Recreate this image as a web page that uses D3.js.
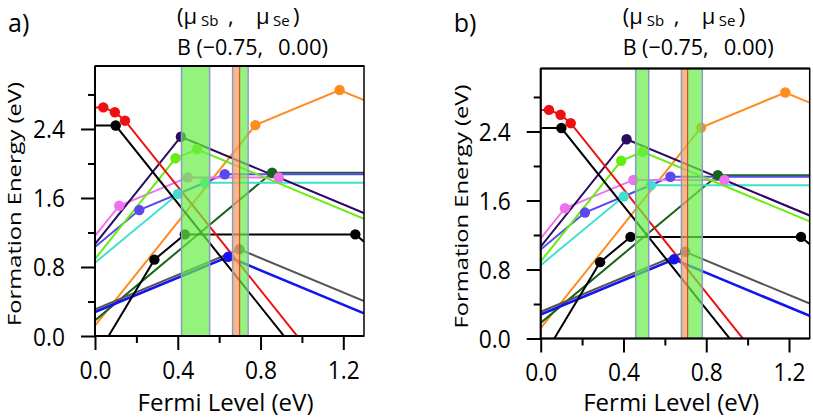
<!DOCTYPE html>
<html><head><meta charset="utf-8">
<script src="https://cdn.jsdelivr.net/npm/d3@7"></script>
<style>
html,body{margin:0;padding:0;background:#fff;}
svg{display:block;}
text{font-family:"Open Sans","Noto Sans",sans-serif;fill:#000;}
</style></head>
<body>
<svg id="chart" width="813" height="419"></svg>
<script>
// ---------- data (Fermi level eV, formation energy eV) ----------
const xDomain = [0, 1.3];
const yDomain = [0, 3.13];
const xMajorTicks = [0.0, 0.4, 0.8, 1.2];
const xMinorTicks = [0.2, 0.6, 1.0];
const yMajorTicks = [0.0, 0.8, 1.6, 2.4];
const yMinorTicks = [0.4, 1.2, 2.0, 2.8];

const lineOrange    = [[0,0.12],[0.775,2.445],[1.182,2.852],[1.3,2.734]];
const lineDarkGreen = [[0,0.181],[0.856,1.893],[1.3,1.893]];
const lineCyan      = [[0,0.85],[0.401,1.646],[0.532,1.777],[1.3,1.777]];
const lineSlate     = [[0,1.032],[0.214,1.46],[0.627,1.875],[1.3,1.875]];
const lineMagenta   = [[0,1.16],[0.117,1.51],[0.448,1.838],[0.888,1.838],[1.3,1.426]];
const lineLime      = [[0,0.893],[0.389,2.06],[0.493,2.165],[1.3,1.358]];
const lineIndigo    = [[0,1.065],[0.415,2.31],[1.3,1.425]];
const lineGray      = [[0,0.31],[0.698,1.005],[1.3,0.405]];
const lineBlue      = [[0,0.278],[0.644,0.918],[1.3,0.262]];
const lineBlackLow  = [[0,-0.263],[0.287,0.885],[0.434,1.178],[1.258,1.178],[1.3,1.094]];
const lineBlackTop  = [[0,2.44],[0.10,2.44],[1.3,-1.16]];
const lineRed       = [[0,2.65],[0.04,2.65],[0.096,2.594],[0.145,2.496],[1.3,-0.969]];

const seriesList = [lineOrange, lineDarkGreen, lineCyan, lineSlate, lineMagenta, lineLime,
                    lineIndigo, lineGray, lineBlue, lineBlackLow, lineBlackTop, lineRed];
const seriesColors = ["#ff8c1e","#17651a","#3fe0d0","#5a48ee","#ee72ee","#66ee10",
                      "#2b0b5e","#555555","#1414f0","#000000","#000000","#ee1111"];

// chemical-potential bands (eV)
const greenBandsA  = [[0.418,0.554],[0.701,0.738]];
const orangeBandsA = [[0.667,0.697]];
const edgeLinesA   = [0.418,0.554,0.665,0.740];
const redLinesA    = [0.699];
const greenBandsB  = [[0.459,0.522],[0.712,0.779]];
const orangeBandsB = [[0.683,0.708]];
const edgeLinesB   = [0.459,0.522,0.680,0.781];
const redLinesB    = [0.710];

const panelLabels = ["a)", "b)"];
const muHeader = ["(\u03BC", "Sb", ",", "\u03BC", "Se", ")"];
const pointLabel = ["B (\u22120.75,", "0.00)"];
const xTitle = "Fermi Level (eV)";
const yTitle = "Formation Energy (eV)";

// ---------- drawing ----------
const svg = d3.select("#chart");
const panels = [
  {left:95,  top:66, bottom:336, titleX:21, green:greenBandsA, orange:orangeBandsA, edges:edgeLinesA, reds:redLinesA, label:panelLabels[0]},
  {left:540.7, top:68.5, bottom:338.5, titleX:468, green:greenBandsB, orange:orangeBandsB, edges:edgeLinesB, reds:redLinesB, label:panelLabels[1]}
];
const W = 269;

panels.forEach((p, i) => {
  const x = d3.scaleLinear().domain(xDomain).range([p.left, p.left + W]);
  const y = d3.scaleLinear().domain(yDomain).range([p.bottom, p.top]);
  const g = svg.append("g");
  const clipId = "clip" + i;
  svg.append("clipPath").attr("id", clipId).append("rect")
    .attr("x", p.left).attr("y", p.top).attr("width", W).attr("height", p.bottom - p.top);
  const plot = g.append("g").attr("clip-path", `url(#${clipId})`);

  const line = d3.line().x(d => x(d[0])).y(d => y(d[1]));
  seriesList.forEach((s, k) => {
    plot.append("path").attr("d", line(s)).attr("fill", "none")
      .attr("stroke", seriesColors[k]).attr("stroke-width", seriesColors[k] === "#1414f0" ? 2.6 : 2);
  });
  seriesList.forEach((s, k) => {
    plot.selectAll(null).data(s.slice(1, -1)).enter().append("circle")
      .attr("cx", d => x(d[0])).attr("cy", d => y(d[1])).attr("r", 5.2)
      .attr("fill", seriesColors[k]);
  });

  // bands drawn over the lines, semi-transparent
  plot.selectAll(null).data(p.green).enter().append("rect")
    .attr("x", d => x(d[0])).attr("width", d => x(d[1]) - x(d[0]))
    .attr("y", p.top).attr("height", p.bottom - p.top)
    .attr("fill", "#66ee44").attr("fill-opacity", 0.7);
  plot.selectAll(null).data(p.orange).enter().append("rect")
    .attr("x", d => x(d[0])).attr("width", d => x(d[1]) - x(d[0]))
    .attr("y", p.top).attr("height", p.bottom - p.top)
    .attr("fill", "#f5a060").attr("fill-opacity", 0.75);
  plot.selectAll(null).data(p.reds).enter().append("line")
    .attr("x1", d => x(d)).attr("x2", d => x(d)).attr("y1", p.top).attr("y2", p.bottom)
    .attr("stroke", "#c8502a").attr("stroke-width", 1.2);
  plot.selectAll(null).data(p.edges).enter().append("line")
    .attr("x1", d => x(d)).attr("x2", d => x(d)).attr("y1", p.top).attr("y2", p.bottom)
    .attr("stroke", "#8a9cc4").attr("stroke-width", 1.5);

  // frame
  g.append("rect").attr("x", p.left).attr("y", p.top).attr("width", W).attr("height", p.bottom - p.top)
    .attr("fill", "none").attr("stroke", "#000").attr("stroke-width", 1.5);

  // axes
  g.append("g").attr("transform", `translate(0,${p.bottom})`)
    .call(d3.axisBottom(x).tickValues(xMajorTicks).tickSize(14).tickPadding(11).tickFormat(d3.format(".1f")));
  g.append("g").attr("transform", `translate(0,${p.bottom})`)
    .call(d3.axisBottom(x).tickValues(xMinorTicks).tickSize(7).tickFormat(""));
  const yAx = g.append("g").attr("transform", `translate(${p.left},0)`)
    .call(d3.axisLeft(y).tickValues(yMajorTicks).tickSize(14).tickPadding(16).tickFormat(d3.format(".1f")));
  g.append("g").attr("transform", `translate(${p.left},0)`)
    .call(d3.axisLeft(y).tickValues(yMinorTicks).tickSize(7).tickFormat(""));
  g.selectAll(".domain").remove();
  g.selectAll(".tick line").attr("stroke", "#000").attr("stroke-width", 2);
  g.selectAll(".tick text").style("font-size", "25px").attr("fill", "#000")
    .attr("textLength", 32).attr("lengthAdjust", "spacingAndGlyphs");
  yAx.selectAll(".tick text").attr("dy", "0.36em");
  // axis lines
  g.append("line").attr("x1", p.left).attr("x2", p.left + W).attr("y1", p.bottom).attr("y2", p.bottom)
    .attr("stroke", "#000").attr("stroke-width", 2);
  g.append("line").attr("x1", p.left).attr("x2", p.left).attr("y1", p.top).attr("y2", p.bottom)
    .attr("stroke", "#000").attr("stroke-width", 2);
  g.append("line").attr("x1", p.left).attr("x2", p.left + W).attr("y1", p.top).attr("y2", p.top)
    .attr("stroke", "#000").attr("stroke-width", 2);

  // axis titles
  g.append("text").attr("x", p.left + W / 2 - 4).attr("y", 411).attr("text-anchor", "middle")
    .attr("textLength", 176).attr("lengthAdjust", "spacingAndGlyphs")
    .style("font-size", "23px").text(xTitle);
  g.append("text").attr("transform", `translate(${p.titleX},${(p.top + p.bottom) / 2 + 3}) rotate(-90)`)
    .attr("text-anchor", "middle").attr("textLength", 244).attr("lengthAdjust", "spacingAndGlyphs")
    .style("font-size", "19px").text(yTitle);

  // panel label & header
  const dx = p.left - 95;
  g.append("text").attr("x", 8 + dx).attr("y", 32).style("font-size", "25px").text(p.label);
  const parts = [
    {t: muHeader[0], x: 177, y: 24, fs: 22},
    {t: muHeader[1], x: 201, y: 26, fs: 15},
    {t: muHeader[2], x: 228, y: 24, fs: 22},
    {t: muHeader[3], x: 256, y: 24, fs: 22},
    {t: muHeader[4], x: 273, y: 26, fs: 15},
    {t: muHeader[5], x: 293, y: 24, fs: 22}
  ];
  parts.forEach(o => {
    g.append("text").attr("x", o.x + dx).attr("y", o.y).style("font-size", o.fs + "px").text(o.t);
  });
  g.append("text").attr("x", 177 + dx).attr("y", 55).style("font-size", "22px")
    .attr("textLength", 86).attr("lengthAdjust", "spacingAndGlyphs").text(pointLabel[0]);
  g.append("text").attr("x", 328 + dx).attr("y", 55).attr("text-anchor", "end").style("font-size", "22px")
    .attr("textLength", 50).attr("lengthAdjust", "spacingAndGlyphs").text(pointLabel[1]);
});
</script>
</body></html>
